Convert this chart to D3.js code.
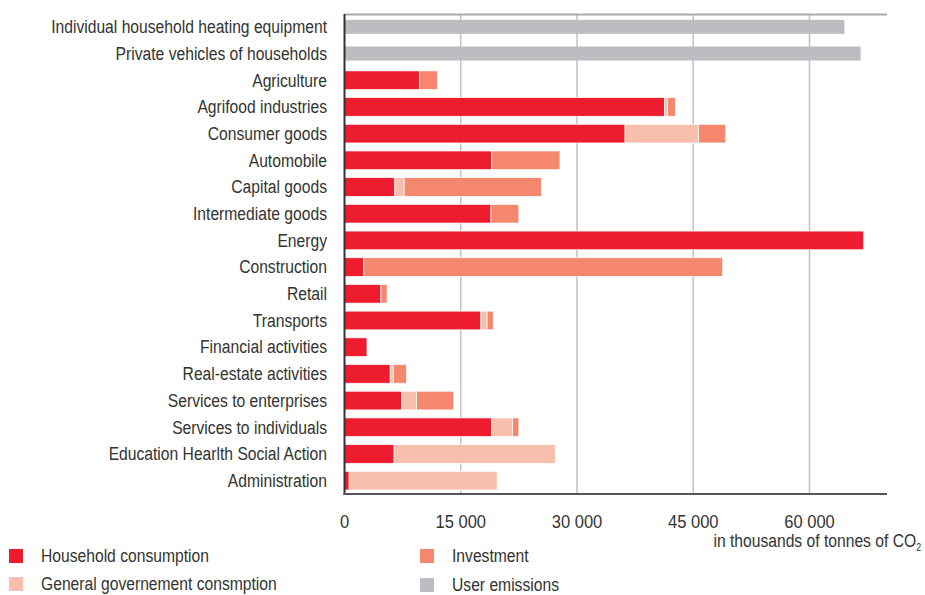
<!DOCTYPE html>
<meta charset="utf-8">
<title>CO2 emissions by sector</title>
<script src="https://d3js.org/d3.v7.min.js"></script>
<style>
  body { margin: 0; background: #fff; }
  text { font-family: "Liberation Sans", Arial, sans-serif; fill: #333; }
</style>
<div id="chart"></div>
<script>

// data, thousands of tonnes of CO2
var categories = ["Individual household heating equipment", "Private vehicles of households",
  "Agriculture", "Agrifood industries", "Consumer goods", "Automobile", "Capital goods",
  "Intermediate goods", "Energy", "Construction", "Retail", "Transports",
  "Financial activities", "Real-estate activities", "Services to enterprises",
  "Services to individuals", "Education Hearlth Social Action", "Administration"];
var household  = [0, 0, 9700, 41300, 36200, 19000, 6500, 18900, 67000, 2500, 4700, 17600, 2900, 5900, 7400, 19000, 6400, 600];
var government = [0, 0, 0, 400, 9500, 0, 1200, 0, 0, 0, 0, 800, 0, 400, 1900, 2700, 20800, 19100];
var investment = [0, 0, 2300, 1000, 3500, 8800, 17700, 3600, 0, 46300, 800, 800, 0, 1700, 4800, 800, 0, 0];
var userEmissions = [64500, 66600, 0, 0, 0, 0, 0, 0, 0, 0, 0, 0, 0, 0, 0, 0, 0, 0];
var xTicks = [0, 15000, 30000, 45000, 60000];

var series = ["household", "government", "investment"];
var colors = { household: "#ed1c2e", government: "#f9bfad", investment: "#f4876e", user: "#bcbdc1" };
var legendLabels = ["Household consumption", "General governement consmption", "Investment", "User emissions"];

var width = 925, height = 595;
var narrow = 0.87; // squeeze text to look like a condensed face

var svg = d3.select("#chart").append("svg")
    .attr("width", width)
    .attr("height", height);

var x = d3.scaleLinear().domain([0, 70000]).range([344.5, 887]);
var y = d3.scaleBand().domain(categories).range([13.5, 494]).paddingInner(0.3).paddingOuter(0.15);

var rows = categories.map(function(c, i) {
  return { cat: c, household: household[i], government: government[i], investment: investment[i], user: userEmissions[i] };
});

function place(px, py) { return "translate(" + px + "," + py + ") scale(" + narrow + ",1)"; }

// gridlines
svg.append("g").selectAll("line")
  .data(xTicks.slice(1))
  .enter().append("line")
    .attr("x1", function(d) { return x(d); })
    .attr("x2", function(d) { return x(d); })
    .attr("y1", 14)
    .attr("y2", 494)
    .attr("stroke", "#c4c4c4")
    .attr("stroke-width", 1.6);

// top line
svg.append("line")
  .attr("x1", x(0)).attr("x2", x(70000))
  .attr("y1", 14.5).attr("y2", 14.5)
  .attr("stroke", "#a7a9ac").attr("stroke-width", 2);

// user emission bars (thinner)
var ub = y.bandwidth() * 0.75;
svg.append("g").selectAll("rect")
  .data(rows.filter(function(d) { return d.user > 0; }))
  .enter().append("rect")
    .attr("x", x(0))
    .attr("y", function(d) { return y(d.cat) + (y.bandwidth() - ub) / 2; })
    .attr("width", function(d) { return x(d.user) - x(0); })
    .attr("height", ub)
    .attr("fill", colors.user);

// stacked bars
var stack = d3.stack().keys(series)(rows);
svg.append("g").selectAll("g")
  .data(stack)
  .enter().append("g")
    .attr("fill", function(d) { return colors[d.key]; })
  .selectAll("rect")
  .data(function(d) { return d.filter(function(p) { return p[1] > p[0]; }); })
  .enter().append("rect")
    .attr("x", function(d) { return x(d[0]); })
    .attr("y", function(d) { return y(d.data.cat); })
    .attr("width", function(d) { return x(d[1]) - x(d[0]); })
    .attr("height", y.bandwidth())
    .attr("stroke", "#fff")
    .attr("stroke-width", 0.7);

// left axis line and bottom line
svg.append("line")
  .attr("x1", x(0)).attr("x2", x(0))
  .attr("y1", 14).attr("y2", 495)
  .attr("stroke", "#333").attr("stroke-width", 2);
svg.append("line")
  .attr("x1", x(0) - 1).attr("x2", x(70000))
  .attr("y1", 494).attr("y2", 494)
  .attr("stroke", "#555").attr("stroke-width", 2);

// category labels
svg.append("g").selectAll("text")
  .data(categories)
  .enter().append("text")
    .attr("transform", function(d) { return place(327, y(d) + y.bandwidth() / 2); })
    .attr("dy", "0.35em")
    .attr("text-anchor", "end")
    .style("font-size", "18px")
    .text(function(d) { return d; });

// x tick labels
svg.append("g").selectAll("text")
  .data(xTicks)
  .enter().append("text")
    .attr("transform", function(d) { return place(x(d), 521); })
    .attr("dy", "0.35em")
    .attr("text-anchor", "middle")
    .style("font-size", "19px")
    .text(function(d) { return d === 0 ? "0" : d3.format(",")(d).replace(/,/g, " "); });

var unit = svg.append("text")
  .attr("transform", place(921, 541))
  .attr("dy", "0.35em")
  .attr("text-anchor", "end")
  .style("font-size", "18px");
unit.append("tspan").text("in thousands of tonnes of CO");
unit.append("tspan").attr("dy", "0.4em").style("font-size", "10px").text("2");

// legend
var legendPos = [[9, 556], [9, 584], [420, 556], [420, 585]];
var legendKeys = ["household", "government", "investment", "user"];
var lg = svg.append("g").selectAll("g")
  .data(legendKeys)
  .enter().append("g")
    .attr("transform", function(d, i) { return "translate(" + legendPos[i][0] + "," + legendPos[i][1] + ")"; });
lg.append("rect")
  .attr("x", 0).attr("y", -7)
  .attr("width", 14).attr("height", 14)
  .attr("fill", function(d) { return colors[d]; });
lg.append("text")
  .attr("transform", place(32, 0))
  .attr("dy", "0.35em")
  .style("font-size", "18px")
  .text(function(d, i) { return legendLabels[i]; });

</script>
